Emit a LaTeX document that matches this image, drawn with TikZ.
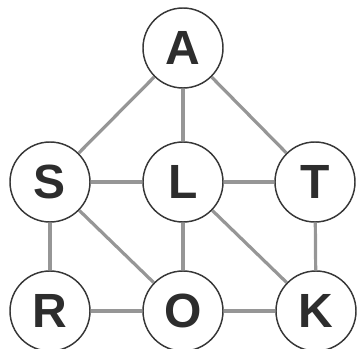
\documentclass[tikz,border=0pt]{standalone}
\usepackage{fontspec}
\setmainfont{Liberation Sans}

\tikzset{every picture/.style={line width=0.75pt}}
\tikzset{
  city/.style={circle, draw={rgb, 255:red, 55; green, 55; blue, 55}, line width=1.1pt, fill=white, minimum size=60pt, inner sep=0pt, font=\fontsize{36}{36}\selectfont\bfseries, text={rgb, 255:red, 45; green, 45; blue, 45}},
  road/.style={draw={rgb, 255:red, 150; green, 150; blue, 150}, line width=2.4pt}
}

\begin{document}
\begin{tikzpicture}[x=0.75pt,y=0.75pt,yscale=-1,xscale=1]
\useasboundingbox (0,0) rectangle (358,349); %set diagram to the reference size

% Text Node
\node [city] (A) at (183,48) {A};
% Text Node
\node [city] (S) at (50,182) {S};
% Text Node
\node [city] (L) at (183,182) {L};
% Text Node
\node [city] (T) at (315,182) {T};
% Text Node
\node [city] (R) at (50,311) {R};
% Text Node
\node [city] (O) at (183,311) {O};
% Text Node
\node [city] (K) at (316,311) {K};

%Straight Lines
\path [road] (A) -- (S) ;
\path [road] (A) -- (L) ;
\path [road] (A) -- (T) ;
\path [road] (S) -- (L) ;
\path [road] (L) -- (T) ;
\path [road] (S) -- (R) ;
\path [road] (S) -- (O) ;
\path [road] (L) -- (O) ;
\path [road] (L) -- (K) ;
\path [road] (T) -- (K) ;
\path [road] (R) -- (O) ;
\path [road] (O) -- (K) ;

\end{tikzpicture}
\end{document}
